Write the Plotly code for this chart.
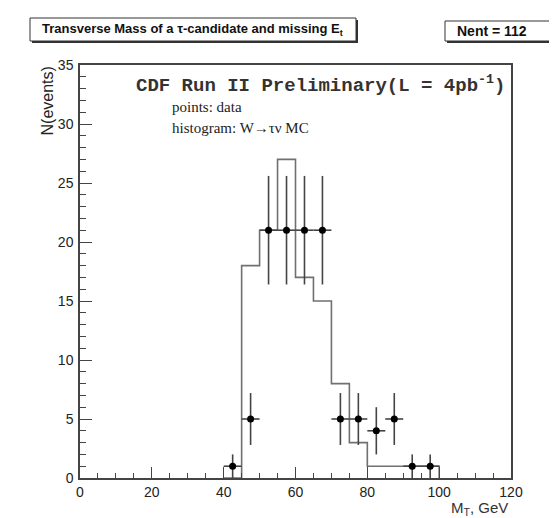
import plotly.graph_objects as go

# ---- data ----
mc_bin_low = [40, 45, 50, 55, 60, 65, 70, 75, 80, 85, 90, 95, 100]
mc_counts = [0, 18, 21, 27, 17, 15, 8, 3, 1, 1, 1, 1, 0]

data_x = [42.5, 47.5, 52.5, 57.5, 62.5, 67.5, 72.5, 77.5, 82.5, 87.5, 92.5, 97.5]
data_y = [1, 5, 21, 21, 21, 21, 5, 5, 4, 5, 1, 1]
data_err = [1, 2.2, 4.6, 4.6, 4.6, 4.6, 2.2, 2.2, 2, 2.2, 1, 1]
bin_half = 2.5

x_ticks = [0, 20, 40, 60, 80, 100, 120]
y_ticks = [0, 5, 10, 15, 20, 25, 30, 35]

W, H = 557, 518
L, R, T, B = 72, 54, 57, 48
PW, PH = W - L - R, H - T - B


def px(xp):
    return (xp - L) / PW


def py(yp):
    return (H - B - yp) / PH


fig = go.Figure()

fig.add_trace(go.Scatter(
    x=mc_bin_low, y=mc_counts, mode="lines", line_shape="hv",
    line=dict(color="#707070", width=1.6), hoverinfo="skip", showlegend=False,
))

fig.add_trace(go.Scatter(
    x=data_x, y=data_y, mode="markers",
    marker=dict(color="black", size=7, symbol="circle"),
    error_y=dict(type="data", array=data_err, color="#444", thickness=1.6, width=0),
    error_x=dict(type="constant", value=bin_half, color="#444", thickness=1.6, width=0),
    showlegend=False,
))

tickfont = dict(family="Liberation Sans, Arial", size=14, color="#222")

fig.update_xaxes(
    range=[0, 120], tickvals=x_ticks, ticktext=[str(v) for v in x_ticks],
    ticks="inside", ticklen=11, tickcolor="#444", tickwidth=1.2,
    minor=dict(dtick=5, tick0=0, ticks="inside", ticklen=5, tickcolor="#444"),
    showline=True, linecolor="#444", linewidth=1.5, mirror=True,
    showgrid=False, zeroline=False, tickfont=tickfont,
)
fig.update_yaxes(
    range=[0, 35], tickvals=y_ticks, ticktext=[str(v) for v in y_ticks],
    ticks="inside", ticklen=12, tickcolor="#444", tickwidth=1.2,
    minor=dict(dtick=1, tick0=0, ticks="inside", ticklen=6, tickcolor="#444"),
    showline=True, linecolor="#444", linewidth=1.5, mirror=True,
    showgrid=False, zeroline=False, tickfont=tickfont, ticklabelstandoff=2,
)

shapes = []
# title box with shadow
shapes.append(dict(type="rect", xref="paper", yref="paper",
                   x0=px(24), x1=px(350), y0=py(35), y1=py(12),
                   fillcolor="#333", line=dict(width=0)))
shapes.append(dict(type="rect", xref="paper", yref="paper",
                   x0=px(22), x1=px(348), y0=py(33), y1=py(10),
                   fillcolor="white", line=dict(color="#333", width=1)))
# stats box with shadow
shapes.append(dict(type="rect", xref="paper", yref="paper",
                   x0=px(439), x1=px(545), y0=py(35), y1=py(15),
                   fillcolor="#333", line=dict(width=0)))
shapes.append(dict(type="rect", xref="paper", yref="paper",
                   x0=px(437), x1=px(543), y0=py(33), y1=py(13),
                   fillcolor="white", line=dict(color="#333", width=1)))

ann = []
ann.append(dict(text="<b>Transverse Mass of a τ-candidate and missing E<sub>t</sub></b>",
                xref="paper", yref="paper", x=px(184), y=py(21.5),
                xanchor="center", yanchor="middle", showarrow=False,
                font=dict(family="Liberation Sans, Arial", size=13, color="#111")))
ann.append(dict(text="<b>Nent = 112</b>", xref="paper", yref="paper",
                x=px(484), y=py(23), xanchor="center", yanchor="middle",
                showarrow=False,
                font=dict(family="Liberation Sans, Arial", size=14, color="#111")))
ann.append(dict(text="<b>CDF Run II Preliminary(L = 4pb<sup>-1</sup>)</b>",
                xref="paper", yref="paper", x=px(126), y=py(76),
                xanchor="left", yanchor="middle", showarrow=False,
                font=dict(family="Liberation Mono, Courier New", size=19, color="#333")))
ann.append(dict(text="points: data", xref="paper", yref="paper",
                x=px(162), y=py(99), xanchor="left", yanchor="middle",
                showarrow=False,
                font=dict(family="Liberation Serif, Times New Roman", size=15, color="#222")))
ann.append(dict(text="histogram: W→τν MC", xref="paper", yref="paper",
                x=px(162), y=py(120), xanchor="left", yanchor="middle",
                showarrow=False,
                font=dict(family="Liberation Serif, Times New Roman", size=15, color="#222")))
ann.append(dict(text="N(events)", xref="paper", yref="paper",
                x=px(39), y=py(57), xanchor="center", yanchor="top",
                textangle=-90, showarrow=False,
                font=dict(family="Liberation Sans, Arial", size=16, color="#222")))
ann.append(dict(text="M<sub>T</sub>, GeV", xref="paper", yref="paper",
                x=px(502), y=py(500), xanchor="right", yanchor="middle",
                showarrow=False,
                font=dict(family="Liberation Sans, Arial", size=15, color="#333")))

fig.update_layout(
    width=W, height=H,
    margin=dict(l=L, r=R, t=T, b=B, autoexpand=False),
    paper_bgcolor="white", plot_bgcolor="white",
    shapes=shapes, annotations=ann,
)

fig.write_html("out.html")
